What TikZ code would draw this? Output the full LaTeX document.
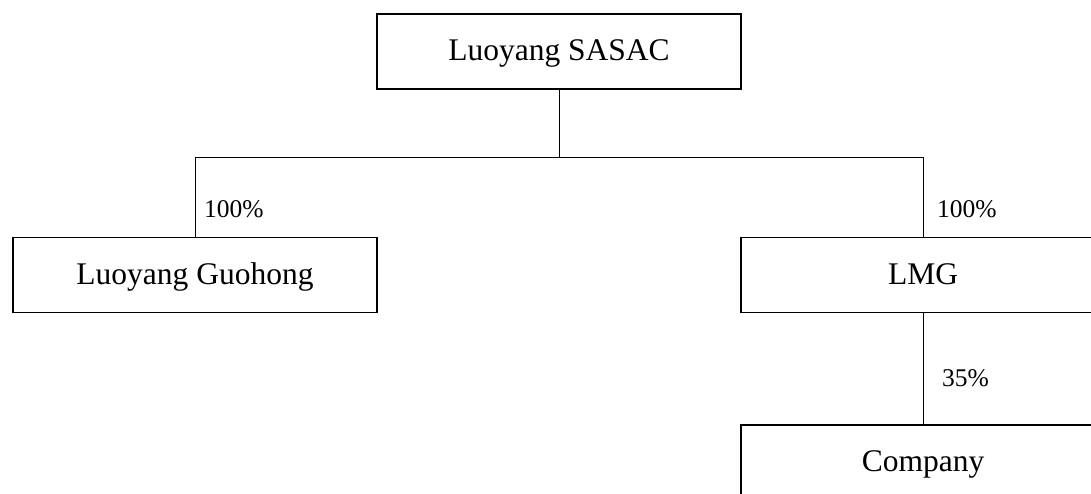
\documentclass[tikz,border=0pt]{standalone}
\usepackage{fontspec}
\setmainfont{Liberation Serif}
\begin{document}
\begin{tikzpicture}[x=1pt,y=1pt,
  orgbox/.style={draw=black, line width=1.2pt, minimum width=364pt, minimum height=75pt, inner sep=0pt, text height=24pt, text depth=6pt, font=\fontsize{31.5}{36}\selectfont},
  conn/.style={draw=black, line width=1pt},
  pct/.style={inner sep=0pt, font=\fontsize{25.5}{30}\selectfont}]
\clip (0,0) rectangle (1091,-493);
\fill[white] (0,0) rectangle (1091,-493);
\node[orgbox] (sasac) at (559,-51.5) {Luoyang SASAC};
\node[orgbox] (guohong) at (195,-275) {Luoyang Guohong};
\node[orgbox] (lmg) at (923,-275) {LMG};
\node[orgbox] (company) at (923,-462.5) {Company};
\coordinate (j) at (559,-157);
\draw[conn] (sasac.south) -- (j);
\draw[conn] (j) -| (guohong.north);
\draw[conn] (j) -| (lmg.north);
\draw[conn] (lmg.south) -- (company.north);
\node[pct, anchor=base west] (p1) at (204,-217) {100\%};
\node[pct, anchor=base west] (p2) at (937,-217) {100\%};
\node[pct, anchor=base west] (p3) at (942,-386) {35\%};
\end{tikzpicture}
\end{document}
